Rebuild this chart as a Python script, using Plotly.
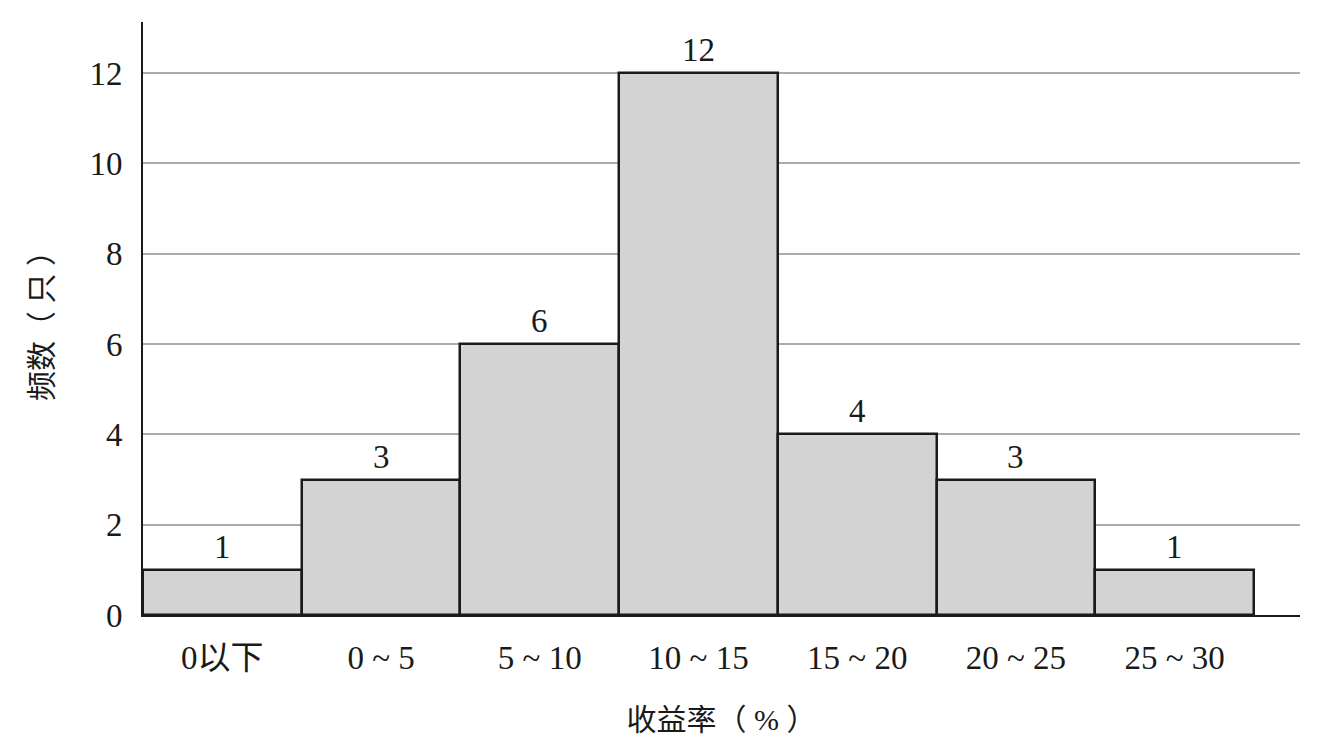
import plotly.graph_objects as go

categories = ["0以下", "0 ~ 5", "5 ~ 10", "10 ~ 15", "15 ~ 20", "20 ~ 25", "25 ~ 30"]
counts = [1, 3, 6, 12, 4, 3, 1]
y_ticks = [0, 2, 4, 6, 8, 10, 12]

FONT = '"Liberation Serif", "Times New Roman", "Noto Sans CJK SC", serif'
INK = "#1a1a1a"

fig = go.Figure()
fig.add_trace(go.Bar(
    x=categories, y=counts,
    marker=dict(color="#d3d3d3", line=dict(color=INK, width=2.5)),
    width=1.0,
))

for c, v in zip(categories, counts):
    fig.add_annotation(x=c, y=v, text=str(v), showarrow=False,
                       yanchor="bottom", yshift=3,
                       font=dict(family=FONT, size=33, color=INK))

# page body adds an 8px offset; figure size/margins account for it
fig.update_layout(
    width=1317, height=738,
    margin=dict(l=135, r=25, t=14, b=131),
    paper_bgcolor="white", plot_bgcolor="white",
    showlegend=False,
    bargap=0,
    font=dict(family=FONT, size=33, color=INK),
)
fig.update_xaxes(
    range=[-0.5, 6.79],
    showline=True, linecolor=INK, linewidth=2,
    showgrid=False, ticks="", ticklabelstandoff=12,
    tickfont=dict(family=FONT, size=33, color=INK),
    title=dict(text="收益率（ % ）", font=dict(family=FONT, size=30, color=INK), standoff=34),
)
fig.update_yaxes(
    range=[0, 13.13],
    tickvals=y_ticks,
    showline=True, linecolor=INK, linewidth=2,
    showgrid=True, gridcolor="#ababab", gridwidth=1.5,
    zeroline=False, ticks="", ticklabelstandoff=12,
    tickfont=dict(family=FONT, size=33, color=INK),
    title=dict(text="频数（ 只 ）", font=dict(family=FONT, size=30, color=INK), standoff=28),
)

fig.write_html("out.html")
